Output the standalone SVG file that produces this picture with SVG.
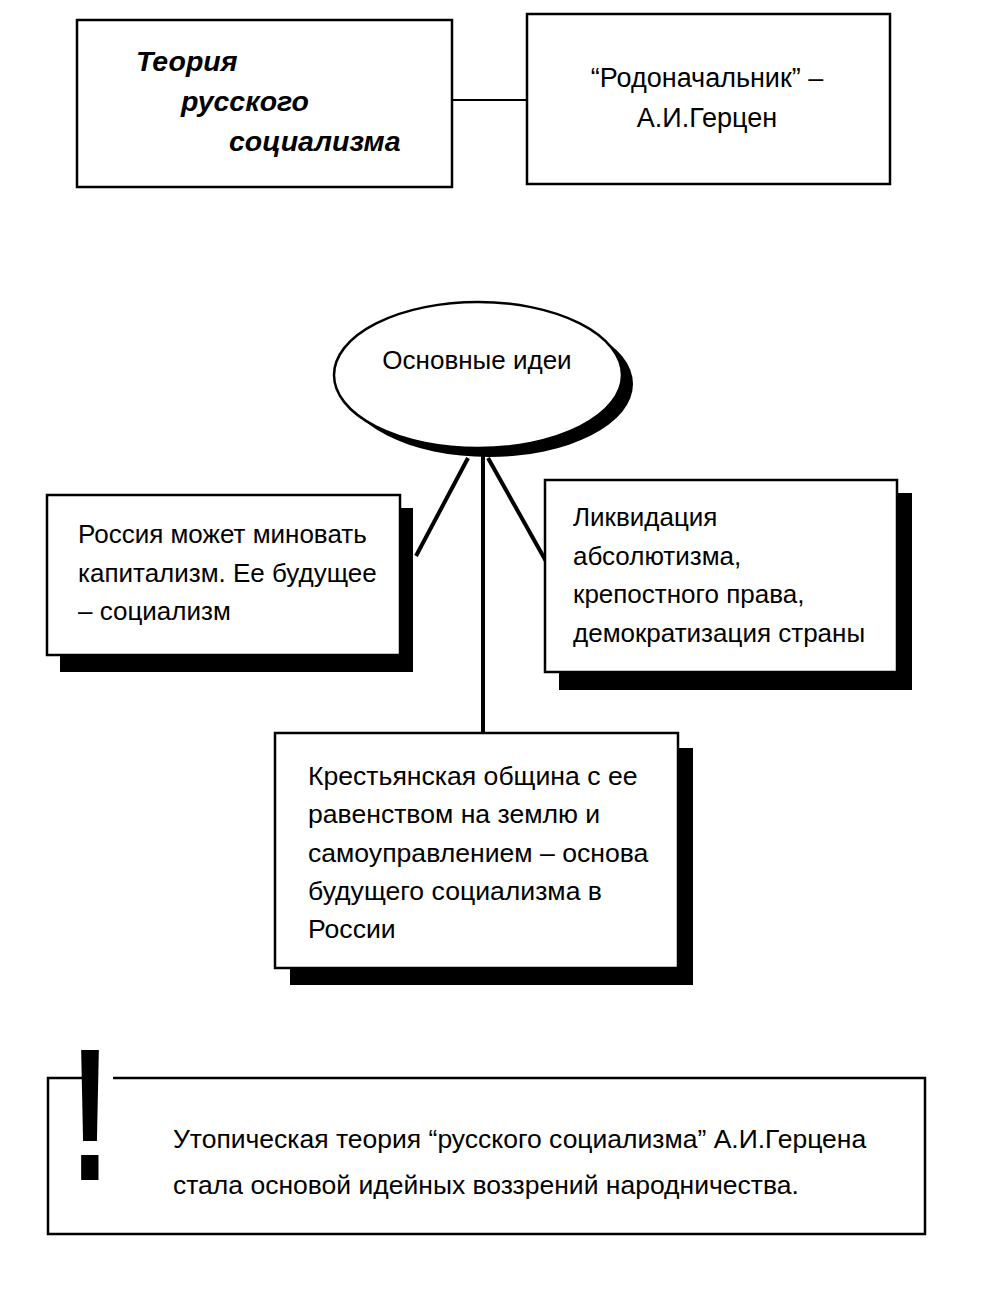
<svg xmlns="http://www.w3.org/2000/svg" width="993" height="1303" viewBox="0 0 993 1303">
<style>
.t{font-family:"Liberation Sans",Arial,sans-serif;font-size:26px;fill:#000}
.ti{font-family:"Liberation Sans",Arial,sans-serif;font-size:28.5px;font-weight:bold;font-style:italic;fill:#000}
.box{fill:#fff;stroke:#000;stroke-width:2.5}
.sh{fill:#000}
.ln{stroke:#000;stroke-width:4;fill:none}
</style>
<rect width="993" height="1303" fill="#fff"/>
<g id="connectors">
<line x1="452" y1="100" x2="528" y2="100" stroke="#000" stroke-width="2"/>
<line class="ln" x1="468" y1="458" x2="416" y2="556"/>
<line class="ln" x1="488" y1="458" x2="547" y2="563"/>
<line class="ln" x1="483" y1="455" x2="483" y2="735"/>
</g>
<g id="title">
<rect class="box" x="77" y="20" width="375" height="167" stroke-width="2"/>
<text class="ti" x="136" y="71">Теория</text>
<text class="ti" x="181" y="111">русского</text>
<text class="ti" x="229" y="151">социализма</text>
</g>
<g id="founder">
<rect class="box" x="527" y="14" width="363" height="170" stroke-width="2"/>
<text class="t" x="707" y="87" text-anchor="middle" style="font-size:27px">“Родоначальник” –</text>
<text class="t" x="707" y="127" text-anchor="middle" style="font-size:27px">А.И.Герцен</text>
</g>
<g id="ideas">
<ellipse class="sh" cx="489" cy="384" rx="144" ry="73"/>
<ellipse class="box" cx="478" cy="375" rx="144" ry="73"/>
<text class="t" x="477" y="369" text-anchor="middle">Основные идеи</text>
</g>
<g id="russia">
<rect class="sh" x="60" y="508" width="353" height="164"/>
<rect class="box" x="47" y="495" width="353" height="160"/>
<text class="t" x="78" y="543">Россия может миновать</text>
<text class="t" x="78" y="582">капитализм. Ее будущее</text>
<text class="t" x="78" y="620">– социализм</text>
</g>
<g id="liquidation">
<rect class="sh" x="559" y="493" width="353" height="197"/>
<rect class="box" x="545" y="480" width="352" height="192"/>
<text class="t" x="573" y="526">Ликвидация</text>
<text class="t" x="573" y="565">абсолютизма,</text>
<text class="t" x="573" y="603">крепостного права,</text>
<text class="t" x="573" y="642">демократизация страны</text>
</g>
<g id="commune">
<rect class="sh" x="290" y="748" width="403" height="237"/>
<rect class="box" x="275" y="733" width="403" height="235"/>
<text class="t" x="308" y="785" style="font-size:26.6px">Крестьянская община с ее</text>
<text class="t" x="308" y="823" style="font-size:26.6px">равенством на землю и</text>
<text class="t" x="308" y="862" style="font-size:26.6px">самоуправлением – основа</text>
<text class="t" x="308" y="900" style="font-size:26.6px">будущего социализма в</text>
<text class="t" x="308" y="938" style="font-size:26.6px">России</text>
</g>
<g id="conclusion">
<path d="M82 1078 H48 V1234 H925 V1078 H113" fill="none" stroke="#000" stroke-width="2.5"/>
<text x="90" y="1180" text-anchor="middle" transform="translate(90 0) scale(0.65 1) translate(-90 0)" style="font-family:'Liberation Sans',Arial,sans-serif;font-weight:bold;font-size:190px;fill:#000">!</text>
<text class="t" x="173" y="1148" style="font-size:26.5px">Утопическая теория “русского социализма” А.И.Герцена</text>
<text class="t" x="173" y="1194" style="font-size:26.5px">стала основой идейных воззрений народничества.</text>
</g>
</svg>
